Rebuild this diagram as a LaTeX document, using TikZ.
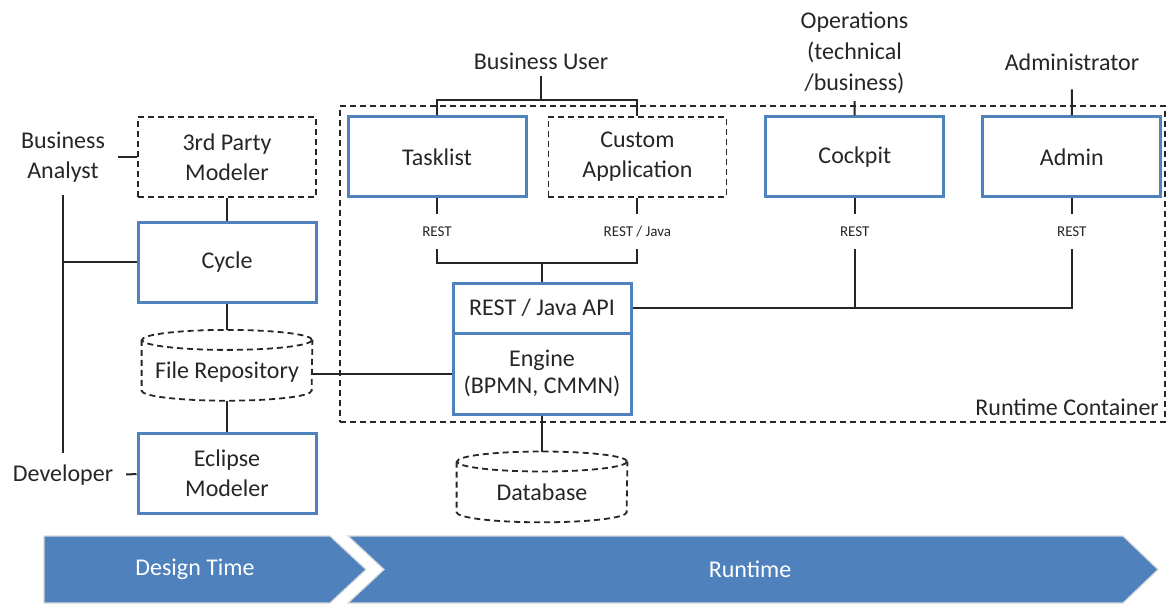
\documentclass[tikz,border=0pt]{standalone}
\usepackage{fontspec}
\setmainfont{Carlito}
\usetikzlibrary{positioning}
\definecolor{boxblue}{RGB}{79,129,189}
\definecolor{ink}{RGB}{38,38,38}
\tikzstyle{block} = [rectangle, minimum width=89pt, minimum height=40pt, align=center, inner sep=2pt, text=ink]
\tikzstyle{border} = [draw=ink, line width=0.9pt, dash pattern=on 3pt off 2pt]
\tikzstyle{component} = [draw=boxblue, block, line width=1.5pt]
\tikzstyle{optional} = [border, block]
\tikzstyle{store} = [block, minimum width=85pt, minimum height=35pt, text height=16pt, text depth=2.5pt]
\tikzstyle{actor} = [align=center, text=ink]
\tikzstyle{protocol} = [font=\fontsize{7.5}{9}\selectfont, text=ink, minimum height=17pt, inner sep=0pt]
\tikzstyle{link} = [draw=ink, line width=1pt]
\tikzstyle{phase} = [fill=boxblue, draw=black!15, line width=0.6pt]
\tikzstyle{stage} = [text=white]

\begin{document}
\begin{tikzpicture}[x=0.5pt, y=-0.5pt, font=\fontsize{12}{15}\selectfont]
    \useasboundingbox (0,0) rectangle (1166,604);

    % Runtime components.
    \node (tasklist) [component] at (437,157) {Tasklist};
    \node (custom) [optional, right=10pt of tasklist] {Custom\\Application};
    \node (cockpit) [component, right=18.5pt of custom] {Cockpit};
    \node (admin) [component, right=18pt of cockpit] {Admin};

    \node (api) [component, minimum height=25pt] at (542,308) {REST / Java API};
    \node (engine) [component, minimum height=40.5pt, font=\fontsize{12}{13.5}\selectfont, below=-1.5pt of api] {Engine\\(BPMN, CMMN)};
    \node (db) [store, below=18pt of engine] {Database};

    % Design time components.
    \node (modeler3) [optional] at (227,157) {3rd Party\\Modeler};
    \node (cycle) [component, below=11.5pt of modeler3] {Cycle};
    \node (repo) [store, below=13pt of cycle] {File Repository};
    \node (eclipse) [component, below=15.5pt of repo] {Eclipse\\Modeler};

    % Cylinders.
    \foreach \n in {repo, db} {
        \draw [border] ([yshift=-5pt]\n.north) ellipse [x radius=42.5pt, y radius=5pt];
        \draw [border] ([yshift=-5pt]\n.north west) -- ([yshift=5pt]\n.south west)
            arc [start angle=180, end angle=360, x radius=42.5pt, y radius=5pt] -- ([yshift=-5pt]\n.north east);
    }

    % Runtime container.
    \node (container) [border, minimum width=412.5pt, minimum height=158pt] at (752.5,264) {};
    \node (containerlabel) [actor, anchor=south east] at (container.south east) {Runtime Container};

    % Actors.
    \node (bizuser) [actor] at (541,61) {Business User};
    \node (operator) [actor, font=\fontsize{12}{15.5}\selectfont] at (854.5,53) {Operations\\(technical\\/business)};
    \node (administrator) [actor] at (1072,62) {Administrator};
    \node (analyst) [actor] at (63,157) {Business\\Analyst};
    \node (developer) [actor] at (63,475) {Developer};

    % Connectors.
    \coordinate (userjoin) at (541,100);
    \draw [link] (bizuser) -- (userjoin);
    \draw [link] (tasklist) |- (userjoin) -| (custom);
    \draw [link] (operator) -- (cockpit);
    \draw [link, shorten <=6pt] (administrator) -- (admin);

    \foreach \n/\t in {tasklist/REST, custom/{REST / Java}, cockpit/REST, admin/REST} {
        \node (rest\n) [protocol, below=8pt of \n] {\t};
        \draw [link] (\n) -- (rest\n);
    }

    \coordinate (restjoin) at (542,263);
    \draw [link] (resttasklist) |- (restjoin) -| (restcustom);
    \draw [link] (restjoin) -- (api);
    \draw [link] (api) -| (restadmin);
    \draw [link] (restcockpit) -- (restcockpit |- api.east);

    \draw [link] (engine) -- (db);
    \draw [link] (engine) -- (engine -| repo.east);
    \draw [link] (modeler3) -- (cycle);
    \draw [link] (cycle) -- (repo);
    \draw [link] (repo) -- (eclipse);
    \draw [link, shorten <=3pt] (analyst) -- (modeler3);
    \draw [link, shorten <=3pt, shorten >=2.5pt] (analyst) -- (developer);
    \draw [link] (cycle) -- (cycle -| analyst);
    \draw [link, shorten <=3pt] (developer) -- (eclipse);

    % Phases.
    \filldraw [phase] (44,536) -- (330,536) -- (366,569.5) -- (330,603) -- (44,603) -- cycle;
    \filldraw [phase] (348,536) -- (1123,536) -- (1158,569.5) -- (1123,603) -- (348,603) -- (384,569.5) -- cycle;
    \node (designtime) [stage] at (195,569.5) {Design Time};
    \node (runtime) [stage] at (750,569.5) {Runtime};
\end{tikzpicture}
\end{document}
